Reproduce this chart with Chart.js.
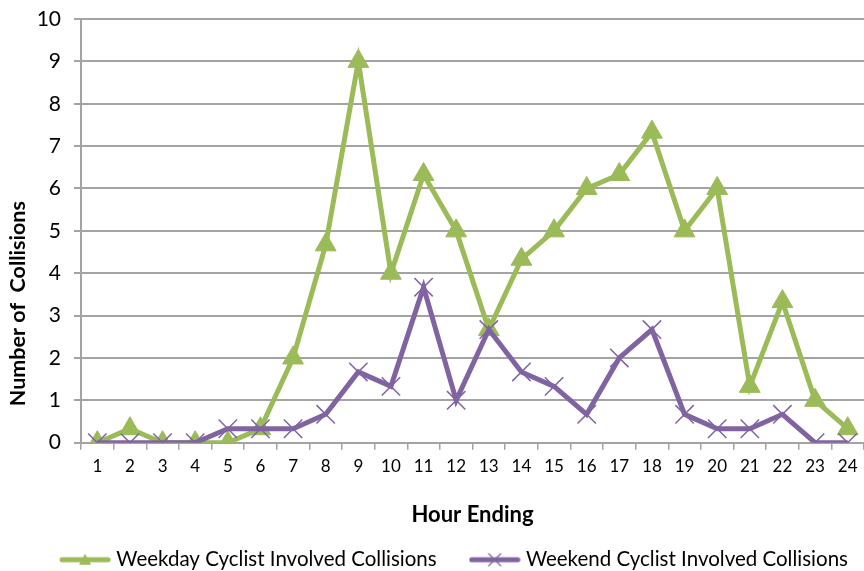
<!DOCTYPE html>
<html>
<head>
<meta charset="utf-8">
<script src="https://cdn.jsdelivr.net/npm/chart.js@4/dist/chart.umd.min.js"></script>
<style>
  html, body { margin: 0; padding: 0; background: #fff; overflow: hidden; }
  #wrap { width: 864px; height: 571px; }
</style>
</head>
<body>
<div id="wrap"><canvas id="collisionChart"></canvas></div>
<script>
// hours 1..24
const hours = ["1", "2", "3", "4", "5", "6", "7", "8", "9", "10", "11", "12",
  "13", "14", "15", "16", "17", "18", "19", "20", "21", "22", "23", "24"];

const weekdayCollisions = [0, 0.33, 0, 0, 0, 0.33, 2, 4.67, 9, 4, 6.33, 5,
  2.67, 4.33, 5, 6, 6.33, 7.33, 5, 6, 1.33, 3.33, 1, 0.33];

const weekendCollisions = [0, 0, 0, 0, 0.33, 0.33, 0.33, 0.67, 1.67, 1.33, 3.67, 1,
  2.67, 1.67, 1.33, 0.67, 2, 2.67, 0.67, 0.33, 0.33, 0.67, 0, 0];

const yTicks = [0, 1, 2, 3, 4, 5, 6, 7, 8, 9, 10];

const GREEN = "#9bbb59";
const PURPLE = "#8064a2";
const GRID = "#a3a3a3";
const FONT = "Lato, 'Liberation Sans', sans-serif";
const LEGEND_SHIFT = 24; // legend sits a bit right of centre in the original

/**
 * Small line + marker icon for the legend
 */
function legendIcon(color, style) {
  const c = document.createElement("canvas");
  c.width = 52;
  c.height = 16;
  const ctx = c.getContext("2d");
  ctx.strokeStyle = color;
  ctx.lineWidth = 5;
  ctx.lineCap = "round";
  ctx.beginPath();
  ctx.moveTo(3, 8);
  ctx.lineTo(49, 8);
  ctx.stroke();
  ctx.fillStyle = color;
  if (style === "triangle") {
    ctx.beginPath();
    ctx.moveTo(26, 2);
    ctx.lineTo(32, 13);
    ctx.lineTo(20, 13);
    ctx.closePath();
    ctx.fill();
  } else {
    ctx.lineWidth = 1.3;
    ctx.beginPath();
    ctx.moveTo(20, 2);
    ctx.lineTo(32, 14);
    ctx.moveTo(32, 2);
    ctx.lineTo(20, 14);
    ctx.stroke();
  }
  return c;
}

// nudge the legend horizontally after layout
const legendShift = {
  id: "legendShift",
  afterLayout(chart) {
    if (!chart.legend) return;
    chart.legend.left += LEGEND_SHIFT;
    chart.legend.right += LEGEND_SHIFT;
  },
};

const ctx = document.getElementById("collisionChart").getContext("2d");

new Chart(ctx, {
  type: "line",
  data: {
    labels: hours,
    datasets: [
      {
        label: "Weekday Cyclist Involved Collisions",
        data: weekdayCollisions,
        borderColor: GREEN,
        backgroundColor: GREEN,
        borderWidth: 5,
        pointStyle: "triangle",
        pointRadius: 12,
        pointBorderWidth: 1,
        pointBackgroundColor: GREEN,
        pointBorderColor: GREEN,
        tension: 0,
        order: 2,
        legendIcon: legendIcon(GREEN, "triangle"),
      },
      {
        label: "Weekend Cyclist Involved Collisions",
        data: weekendCollisions,
        borderColor: PURPLE,
        backgroundColor: PURPLE,
        borderWidth: 5,
        pointStyle: "crossRot",
        pointRadius: 13,
        pointBorderWidth: 1.5,
        pointBorderColor: PURPLE,
        tension: 0,
        order: 1,
        legendIcon: legendIcon(PURPLE, "cross"),
      },
    ],
  },
  plugins: [legendShift],
  options: {
    responsive: true,
    maintainAspectRatio: false,
    animation: false,
    layout: {
      autoPadding: false,
      padding: { top: 19, right: 0, left: 0, bottom: -9 },
    },
    plugins: {
      tooltip: { enabled: false },
      legend: {
        position: "bottom",
        labels: {
          color: "#000",
          font: { family: FONT, size: 20.5 },
          usePointStyle: true,
          pointStyleWidth: 42,
          padding: 37,
          sort: (a, b) => a.datasetIndex - b.datasetIndex,
          generateLabels: (chart) =>
            chart.data.datasets.map((ds, i) => ({
              text: ds.label,
              fillStyle: ds.borderColor,
              strokeStyle: ds.borderColor,
              lineWidth: 0,
              pointStyle: ds.legendIcon,
              datasetIndex: i,
              hidden: false,
              fontColor: "#000",
            })),
        },
      },
    },
    scales: {
      x: {
        offset: true,
        afterFit: (scale) => {
          scale.paddingLeft = 0;
          scale.paddingRight = 0;
        },
        grid: {
          offset: true,
          drawOnChartArea: false,
          drawTicks: true,
          tickLength: 7,
          color: GRID,
          lineWidth: 1.5,
        },
        border: { color: GRID, width: 2 },
        ticks: {
          color: "#000",
          font: { family: FONT, size: 17 },
          maxRotation: 0,
          autoSkip: false,
          padding: 7,
        },
        title: {
          display: true,
          text: "Hour Ending",
          color: "#000",
          font: { family: FONT, size: 22, weight: "bold" },
          padding: { top: 18, bottom: -16 },
        },
      },
      y: {
        min: 0,
        max: 10,
        afterBuildTicks: (scale) => {
          scale.ticks = yTicks.map((v) => ({ value: v }));
        },
        afterFit: (scale) => {
          scale.width = 81;
          scale.paddingTop = 0;
          scale.paddingBottom = 0;
        },
        grid: {
          color: GRID,
          lineWidth: 2,
          tickLength: 7,
        },
        border: { color: GRID, width: 2 },
        ticks: {
          color: "#000",
          font: { family: FONT, size: 21 },
          padding: 13,
        },
        title: {
          display: true,
          align: "start",
          text: "\u00a0\u00a0\u00a0\u00a0\u00a0\u00a0\u00a0Number of  Collisions",
          color: "#000",
          font: { family: FONT, size: 21.5, weight: "bold" },
          padding: { top: 5, bottom: 2 },
        },
      },
    },
  },
});
</script>
</body>
</html>
